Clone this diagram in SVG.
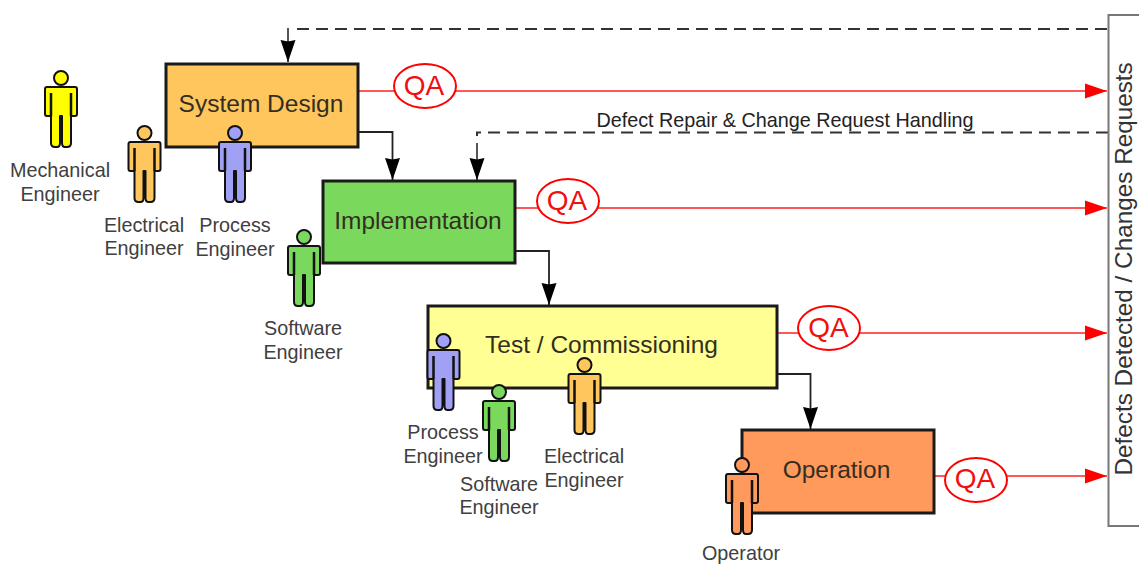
<svg xmlns="http://www.w3.org/2000/svg" width="1139" height="564" viewBox="0 0 1139 564">
<style>
text{font-family:"Liberation Sans",Arial,sans-serif}
.box{stroke:#1a1a1a;stroke-width:3}
.t{font-size:24.500px;fill:#332e20;text-anchor:middle}
.l{font-size:19.800px;fill:#404040;text-anchor:middle}
.qa{fill:#fff;stroke:#f00;stroke-width:2}
.qt{font-size:28px;fill:#f01010;text-anchor:middle}
.red{fill:none;stroke:#ff2020;stroke-width:1.700}
.blk{fill:none;stroke:#222;stroke-width:1.800}
.gry{fill:none;stroke:#555;stroke-width:2}
.dash{fill:none;stroke:#333;stroke-width:2;stroke-dasharray:12 7}
</style>
<defs>
<marker id="ab" markerUnits="userSpaceOnUse" markerWidth="23" markerHeight="16" refX="22" refY="8" orient="auto"><path d="M0,0.500L22,8L0,15.500L1.500,8z" fill="#000"/></marker>
<marker id="ar" markerUnits="userSpaceOnUse" markerWidth="23" markerHeight="16" refX="22" refY="8" orient="auto"><path d="M0,0.500L22,8L0,15.500z" fill="#f00"/></marker>
<g id="person" stroke="#111" stroke-width="2" stroke-linejoin="round">
<circle cx="0" cy="0" r="7"/>
<path d="M-14,9H14Q16,9 16,11V36Q16,38 14,38H10V65Q10,69 6,69H4Q1,69 1,65V38H-1V65Q-1,69 -4,69H-6Q-10,69 -10,65V38H-14Q-16,38 -16,36V11Q-16,9 -14,9Z"/>
<path d="M-10,15V38M10,15V38" fill="none" stroke-width="2.500"/>
</g>
</defs>
<g id="connectors">
<path class="dash" d="M297,29H1108"/>
<path class="gry" d="M288,28V62" marker-end="url(#ab)"/>
<path class="dash" d="M1108,132.500H477V136"/>
<path class="gry" d="M477,143V180" marker-end="url(#ab)"/>
<path class="blk" d="M358,132H392.500V180" marker-end="url(#ab)"/>
<path class="blk" d="M515,251H549V305" marker-end="url(#ab)"/>
<path class="blk" d="M777,374H810.500V429" marker-end="url(#ab)"/>
<path class="red" d="M358,91H1107" marker-end="url(#ar)"/>
<path class="red" d="M515,208H1107" marker-end="url(#ar)"/>
<path class="red" d="M777,333H1107" marker-end="url(#ar)"/>
<path class="red" d="M934,476H1107" marker-end="url(#ar)"/>
</g>
<g id="system-design"><rect class="box" x="166" y="64" width="192" height="83" fill="#ffc65e"/><text class="t" x="261" y="112">System Design</text></g>
<g id="implementation"><rect class="box" x="323" y="181" width="192" height="82" fill="#7ad95c"/><text class="t" x="418" y="229">Implementation</text></g>
<g id="test-commissioning"><rect class="box" x="428" y="306" width="349" height="82" fill="#ffff94"/><text class="t" x="601.500" y="353">Test / Commissioning</text></g>
<g id="operation"><rect class="box" x="742" y="430" width="192" height="83" fill="#ff9a5c"/><text class="t" x="836.500" y="478">Operation</text></g>
<g id="defects"><rect x="1108.500" y="15" width="40" height="511" fill="#fff" stroke="#777" stroke-width="2"/><text font-size="24.300" fill="#333" transform="translate(1132,475.500) rotate(-90)">Defects Detected / Changes Requests</text></g>
<g id="qa1"><ellipse class="qa" cx="425" cy="86" rx="31" ry="22"/><text class="qt" x="424" y="94.500">QA</text></g>
<g id="qa2"><ellipse class="qa" cx="568" cy="201" rx="31" ry="22"/><text class="qt" x="567" y="210">QA</text></g>
<g id="qa3"><ellipse class="qa" cx="829" cy="328" rx="31" ry="22"/><text class="qt" x="828.500" y="336.500">QA</text></g>
<g id="qa4"><ellipse class="qa" cx="976" cy="480" rx="31" ry="22"/><text class="qt" x="975" y="488">QA</text></g>
<text id="handling-label" x="785" y="127" font-size="19.800" fill="#222" text-anchor="middle">Defect Repair &amp; Change Request Handling</text>
<g id="mechanical-engineer"><use href="#person" x="61" y="78" fill="#ffff00"/><text class="l" x="60" y="177">Mechanical</text><text class="l" x="60" y="201">Engineer</text></g>
<g id="electrical-engineer-1"><use href="#person" x="144.500" y="133" fill="#ffc65e"/><text class="l" x="144" y="232">Electrical</text><text class="l" x="144" y="255">Engineer</text></g>
<g id="process-engineer-1"><use href="#person" x="235" y="133" fill="#a0a0f5"/><text class="l" x="235" y="232">Process</text><text class="l" x="235" y="256">Engineer</text></g>
<g id="software-engineer-1"><use href="#person" x="304" y="237" fill="#7ad95c"/><text class="l" x="303" y="335">Software</text><text class="l" x="303" y="359">Engineer</text></g>
<g id="process-engineer-2"><use href="#person" x="443.500" y="341" fill="#a0a0f5"/><text class="l" x="443" y="439">Process</text><text class="l" x="443" y="463">Engineer</text></g>
<g id="software-engineer-2"><use href="#person" x="499" y="392" fill="#7ad95c"/><text class="l" x="499" y="491">Software</text><text class="l" x="499" y="514">Engineer</text></g>
<g id="electrical-engineer-2"><use href="#person" x="584.500" y="365" fill="#ffc65e"/><text class="l" x="584" y="463">Electrical</text><text class="l" x="584" y="487">Engineer</text></g>
<g id="operator"><use href="#person" x="742" y="465" fill="#ff9a5c"/><text class="l" x="741" y="559.500">Operator</text></g>
</svg>
